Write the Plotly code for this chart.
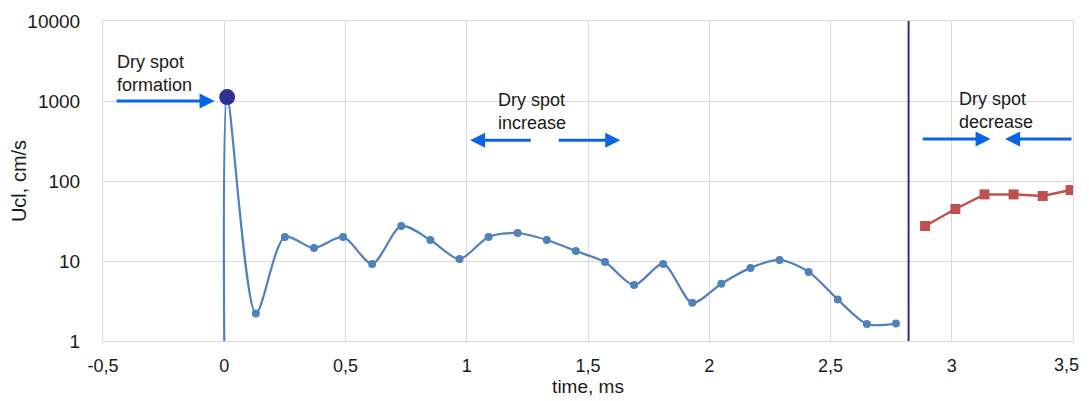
import plotly.graph_objects as go

# Blue series (smoothed line with markers)
blue_x = [0.0, 0.012, 0.13, 0.25, 0.37, 0.49, 0.61, 0.73, 0.85, 0.97, 1.09, 1.21, 1.33,
          1.45, 1.57, 1.69, 1.81, 1.93, 2.05, 2.17, 2.29, 2.41, 2.53, 2.65, 2.77]
blue_y = [1.0, 1120, 2.2, 20, 14.5, 20, 9.2, 27.4, 18.3, 10.6, 20, 22.4, 18.3,
          13.3, 9.7, 5.0, 9.2, 3.0, 5.2, 8.2, 10.3, 7.3, 3.3, 1.63, 1.65]

# Red series (after the vertical marker)
red_x = [2.89, 3.015, 3.135, 3.255, 3.375, 3.49]
red_y = [27.4, 44.7, 68, 68, 65, 77]

# Highlighted formation point
peak_x = [0.012]
peak_y = [1120]

vline_x = 2.822

x_ticks = [-0.5, 0, 0.5, 1, 1.5, 2, 2.5, 3, 3.5]
x_tick_text = ["-0,5", "0", "0,5", "1", "1,5", "2", "2,5", "3", "3,5"]
y_ticks = [1, 10, 100, 1000, 10000]
y_tick_text = ["1", "10", "100", "1000", "10000"]

fig = go.Figure()

fig.add_trace(go.Scatter(
    x=blue_x, y=blue_y, mode="lines",
    line=dict(color="#4F81BD", width=2.2, shape="spline", smoothing=0.8),
    showlegend=False, hoverinfo="skip"))
fig.add_trace(go.Scatter(
    x=blue_x[2:], y=blue_y[2:], mode="markers",
    marker=dict(color="#4F81BD", size=8),
    showlegend=False))
fig.add_trace(go.Scatter(
    x=red_x, y=red_y, mode="lines+markers",
    line=dict(color="#C0504D", width=2.5),
    marker=dict(color="#C0504D", size=10, symbol="square"),
    showlegend=False))
fig.add_trace(go.Scatter(
    x=peak_x, y=peak_y, mode="markers",
    marker=dict(color="#2E3192", size=16),
    showlegend=False))

fig.add_shape(type="line", x0=vline_x, x1=vline_x, y0=0, y1=1, yref="paper",
              line=dict(color="#2E2E7E", width=2))

arrow_color = "#0A64E6"
arrows = [
    # (head_x, head_logy, tail_x, tail_logy)
    (-0.04, 3.0, -0.45, 3.0),
    (1.014, 2.51, 1.27, 2.51),
    (1.633, 2.51, 1.373, 2.51),
    (3.16, 2.525, 2.874, 2.525),
    (3.22, 2.525, 3.5, 2.525),
]
for hx, hy, tx, ty in arrows:
    fig.add_annotation(x=hx, y=hy, ax=tx, ay=ty, xref="x", yref="y",
                       axref="x", ayref="y", text="", showarrow=True,
                       arrowhead=2, arrowsize=1.0, arrowwidth=3,
                       arrowcolor=arrow_color)

label_font = dict(family="Liberation Sans, Arial, sans-serif", size=18, color="#1a1a1a")
labels = [
    (-0.449, 3.64, "Dry spot<br>formation"),
    (1.122, 3.16, "Dry spot<br>increase"),
    (3.023, 3.18, "Dry spot<br>decrease"),
]
for lx, ly, t in labels:
    fig.add_annotation(x=lx, y=ly, xref="x", yref="y", text=t, showarrow=False,
                       xanchor="left", yanchor="top", align="left", font=label_font)

tick_font = dict(family="Liberation Sans Narrow, Liberation Sans, Arial", size=18, color="#1a1a1a")

# The last x tick label would be clipped at the window edge, so it is drawn
# as an annotation anchored at its tick and nudged inside the window.
shown_x_text = x_tick_text[:-1] + [""]
fig.add_annotation(x=x_ticks[-1], y=0, xref="x", yref="paper", text=x_tick_text[-1],
                   showarrow=False, xanchor="right", yanchor="top", xshift=8, yshift=-12,
                   font=tick_font)

# The page body adds an 8px offset; the figure is sized to compensate.
fig.update_layout(
    width=1081, height=393,
    margin=dict(l=95, r=16, t=13, b=60),
    plot_bgcolor="white", paper_bgcolor="white",
    xaxis=dict(range=[-0.5, 3.5], tickvals=x_ticks, ticktext=shown_x_text,
               showgrid=True, automargin=False,
               gridcolor="#D9D9D9", gridwidth=1, zeroline=False,
               showline=True, linecolor="#D9D9D9", mirror=True,
               ticks="outside", ticklen=8, tickcolor="rgba(0,0,0,0)",
               tickfont=tick_font,
               title=dict(text="time, ms", standoff=4,
                          font=dict(family="Liberation Sans Narrow, Liberation Sans, Arial", size=19, color="#1a1a1a"))),
    yaxis=dict(type="log", range=[0, 4], tickvals=y_ticks, ticktext=y_tick_text,
               showgrid=True, automargin=False,
               gridcolor="#D9D9D9", gridwidth=1, zeroline=False,
               showline=True, linecolor="#D9D9D9", mirror=True,
               ticks="outside", ticklen=18, tickcolor="rgba(0,0,0,0)",
               tickfont=dict(family="Liberation Sans, Arial", size=19, color="#1a1a1a"),
               title=dict(text="Ucl, cm/s", standoff=14,
                          font=dict(family="Liberation Sans, Arial", size=20, color="#1a1a1a"))),
)

fig.write_html("out.html")
